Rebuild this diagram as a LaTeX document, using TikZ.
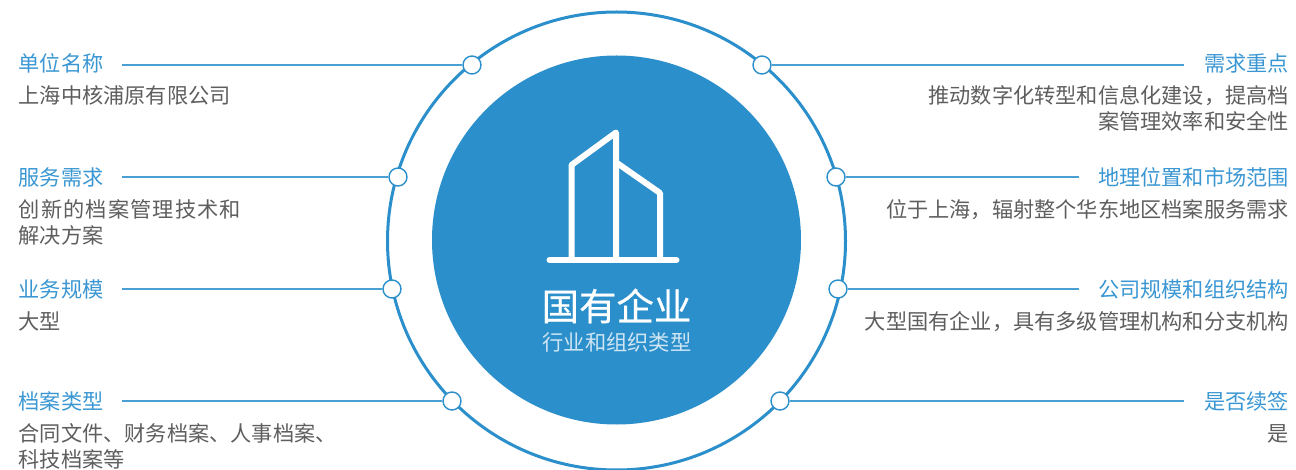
\documentclass[tikz,border=0pt]{standalone}
\usepackage{fontspec}
\setmainfont{Noto Sans CJK SC}[Scale=1]
\newfontfamily\titlefont{Noto Sans CJK SC}[FakeBold=0.5]
\definecolor{mainblue}{HTML}{2B8FCB}
\definecolor{headblue}{HTML}{3A97D3}
\definecolor{bodygrey}{HTML}{5E5E5E}
\definecolor{subwhite}{HTML}{CFE5F4}
\tikzset{
  x=1pt,y=-1pt,
  dot/.style={circle,draw=mainblue,line width=1.4pt,fill=white,minimum size=18pt,inner sep=0pt},
  lead/.style={draw=mainblue!85!white,line width=1.3pt},
  head/.style={inner sep=0pt,text=headblue,font=\fontsize{21.2}{26}\selectfont},
  body/.style={inner sep=0pt,text=bodygrey,font=\fontsize{21.2}{26}\selectfont},
  icon/.style={draw=white,line width=6pt,line cap=round,line join=round}
}
\begin{document}
\begin{tikzpicture}
\useasboundingbox (0,0) rectangle (1296,470);
\fill[white] (0,0) rectangle (1296,470);
\node[circle,draw=mainblue,line width=3pt,minimum size=458pt,inner sep=0pt] (ring) at (616.5,241) {};
\node[circle,fill=mainblue,minimum size=369pt,inner sep=0pt] (core) at (616.5,240) {};
% icon
\draw[icon] (549.5,260) -- (676.5,260);
\draw[icon] (571.5,257) -- (571.5,165) -- (616,132.5) -- (616,257);
\draw[icon] (617,163) -- (660,193) -- (660,257);
\node[inner sep=0pt,text=white,font={\titlefont\fontsize{37.4}{40}\selectfont}] (title) at (616.5,306) {国有企业};
\node[inner sep=0pt,text=subwhite,font=\fontsize{21.3}{26}\selectfont] (sub) at (617,342.5) {行业和组织类型};
% dots
\node[dot] (d1) at (472,65) {};
\node[dot] (d2) at (398,177) {};
\node[dot] (d3) at (392,289) {};
\node[dot] (d4) at (452,401) {};
\node[dot] (d5) at (762,65) {};
\node[dot] (d6) at (836,177) {};
\node[dot] (d7) at (838,289) {};
\node[dot] (d8) at (780,401) {};
% left
\node[head,anchor=west] (h1) at (18.5,63.5) {单位名称};
\node[body,anchor=west] (b1) at (18.5,95.5) {上海中核浦原有限公司};
\node[head,anchor=west] (h2) at (18.5,177.5) {服务需求};
\node[body,anchor=west] (b2) at (18.5,209.5) {\addfontfeature{LetterSpace=5.5}创新的档案管理技术和};
\node[body,anchor=west] (b2b) at (18.5,235.5) {解决方案};
\node[head,anchor=west] (h3) at (18.5,289.5) {业务规模};
\node[body,anchor=west] (b3) at (18.5,321.5) {大型};
\node[head,anchor=west] (h4) at (18.5,401.5) {档案类型};
\node[body,anchor=west] (b4) at (18.5,433.5) {合同文件、财务档案、人事档案、};
\node[body,anchor=west] (b4b) at (18.5,459.5) {科技档案等};
% right
\node[head,anchor=east] (h5) at (1289,63.5) {需求重点};
\node[body,anchor=east] (b5) at (1289,95.5) {推动数字化转型和信息化建设，提高档};
\node[body,anchor=east] (b5b) at (1289,121.5) {案管理效率和安全性};
\node[head,anchor=east] (h6) at (1289,177.5) {地理位置和市场范围};
\node[body,anchor=east] (b6) at (1289,209.5) {位于上海，辐射整个华东地区档案服务需求};
\node[head,anchor=east] (h7) at (1289,289.5) {公司规模和组织结构};
\node[body,anchor=east] (b7) at (1289,321.5) {大型国有企业，具有多级管理机构和分支机构};
\node[head,anchor=east] (h8) at (1289,401.5) {是否续签};
\node[body,anchor=east] (b8) at (1289,433.5) {是};
% leaders
\coordinate (s1) at (122,65); \coordinate (s2) at (122,177);
\coordinate (s3) at (122,289); \coordinate (s4) at (122,401);
\coordinate (s5) at (1184,65); \coordinate (s6) at (1079,177);
\coordinate (s7) at (1079,289); \coordinate (s8) at (1184,401);
\draw[lead] (s1) -- (d1.west);
\draw[lead] (s2) -- (d2.west);
\draw[lead] (s3) -- (d3.west);
\draw[lead] (s4) -- (d4.west);
\draw[lead] (s5) -- (d5.east);
\draw[lead] (s6) -- (d6.east);
\draw[lead] (s7) -- (d7.east);
\draw[lead] (s8) -- (d8.east);
\end{tikzpicture}
\end{document}
